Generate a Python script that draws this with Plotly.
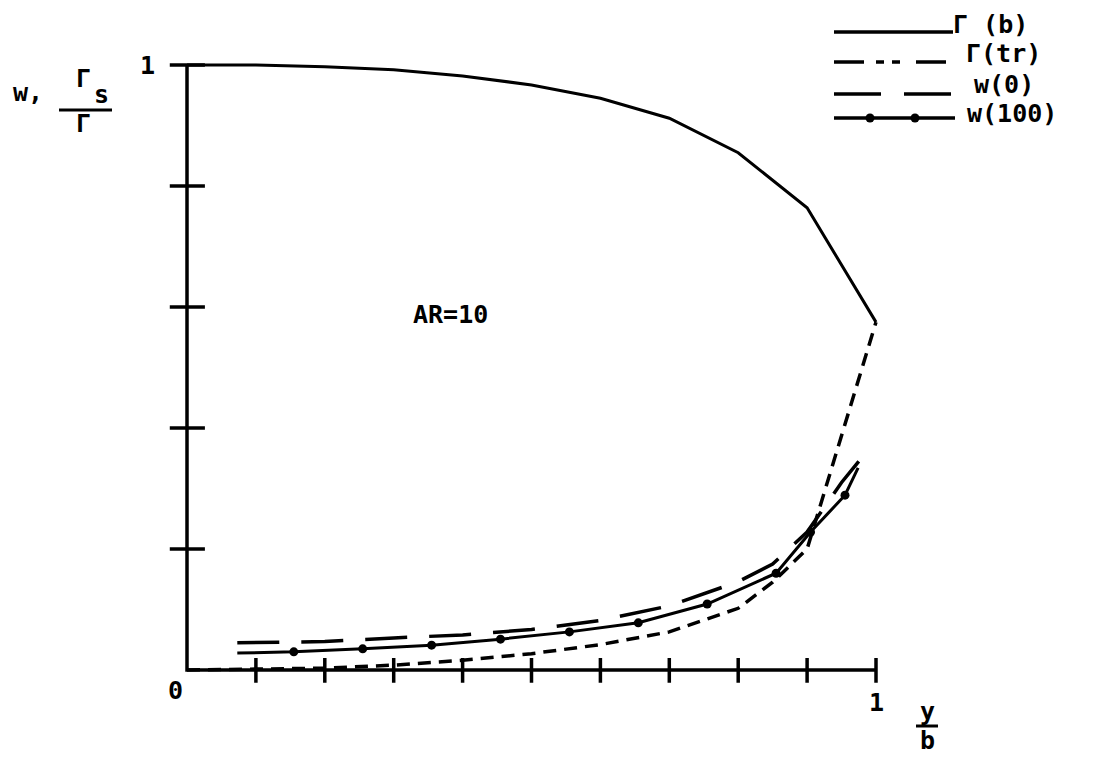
import plotly.graph_objects as go

# ---------------- data ----------------
x_gb = [0.0, 0.1, 0.2, 0.3, 0.4, 0.5, 0.6, 0.7, 0.8, 0.9, 1.0]
gamma_b = [1.0, 1.0, 0.997, 0.992, 0.982, 0.967, 0.945, 0.912, 0.855, 0.764, 0.575]

x_gtr = [0.0, 0.1, 0.2, 0.3, 0.4, 0.5, 0.6, 0.7, 0.8, 0.85, 0.9, 1.0]
gamma_tr = [0.0, 0.001, 0.003, 0.008, 0.016, 0.027, 0.042, 0.063, 0.102, 0.145, 0.2, 0.575]

x_w0 = [0.073, 0.2, 0.3, 0.4, 0.5, 0.6, 0.7, 0.8, 0.85, 0.9, 0.95, 0.975]
w0 = [0.045, 0.047, 0.053, 0.058, 0.067, 0.082, 0.106, 0.146, 0.175, 0.228, 0.31, 0.345]

x_w100 = [0.073, 0.155, 0.255, 0.355, 0.455, 0.555, 0.655, 0.755, 0.855, 0.905, 0.955, 0.974]
w100 = [0.028, 0.03, 0.035, 0.041, 0.051, 0.063, 0.078, 0.109, 0.16, 0.228, 0.289, 0.334]
w100_dot = [False, True, True, True, True, True, True, True, True, True, True, False]

x_ticks = [0.1, 0.2, 0.3, 0.4, 0.5, 0.6, 0.7, 0.8, 0.9, 1.0]
y_ticks = [0.2, 0.4, 0.6, 0.8, 1.0]
x_tick_labels = {0.0: "0", 1.0: "1"}
y_tick_labels = {1.0: "1"}

legend_names = ["\u0393 (b)", "\u0393(tr)", "w(0)", "w(100)"]

# ---------------- layout geometry ----------------
W, H = 1095, 757
X0PX, X1PX = 187, 876   # pixel of x=0 and x=1
Y0PX, Y1PX = 670, 65    # pixel of y=0 and y=1
XR = [-0.1, 1.1]
YR = [-0.1, 1.1]
sx = X1PX - X0PX
sy = Y0PX - Y1PX
left = X0PX + XR[0] * sx
right = X0PX + XR[1] * sx
top = Y0PX - YR[1] * sy
bottom = Y0PX - YR[0] * sy


def px(x):
    return x / W


def py(y):
    return 1 - y / H


FONT = "DejaVu Sans Mono"
BLACK = "#000000"
LW = 3.5

fig = go.Figure()

# axes (through data scale)
fig.add_trace(go.Scatter(x=[0, 0, 1], y=[1, 0, 0], mode="lines",
                         line=dict(color=BLACK, width=LW), hoverinfo="skip"))
# ticks
tx, ty = [], []
for t in x_ticks:
    tx += [t, t, None]
    ty += [-0.021, 0.02, None]
for t in y_ticks:
    tx += [-0.025, 0.026, None]
    ty += [t, t, None]
fig.add_trace(go.Scatter(x=tx, y=ty, mode="lines",
                         line=dict(color=BLACK, width=LW), hoverinfo="skip"))

# curves
fig.add_trace(go.Scatter(x=x_gb, y=gamma_b, mode="lines", name=legend_names[0],
                         line=dict(color=BLACK, width=3)))
fig.add_trace(go.Scatter(x=x_gtr, y=gamma_tr, mode="lines", name=legend_names[1],
                         line=dict(color=BLACK, width=3.5, dash="13px,8px")))
fig.add_trace(go.Scatter(x=x_w0, y=w0, mode="lines", name=legend_names[2],
                         line=dict(color=BLACK, width=3.5, dash="42px,22px")))
fig.add_trace(go.Scatter(x=x_w100, y=w100, mode="lines+markers", name=legend_names[3],
                         line=dict(color=BLACK, width=3),
                         marker=dict(color=BLACK, size=[9 if d else 0 for d in w100_dot],
                                     opacity=1, line=dict(width=0))))

ann = []
shapes = []

# tick labels
for v, s in x_tick_labels.items():
    if v == 0.0:
        ann.append(dict(x=px(175), y=py(690), text=s))
    else:
        ann.append(dict(x=v, y=py(702), xref="x", text=s))
for v, s in y_tick_labels.items():
    ann.append(dict(x=px(147), y=v, yref="y", text=s))

# axis titles
ann.append(dict(x=px(927), y=py(711), text="y"))
ann.append(dict(x=px(927), y=py(740), text="b"))
shapes.append(dict(type="line", xref="paper", yref="paper",
                   x0=px(916), x1=px(938), y0=py(726), y1=py(726),
                   line=dict(color=BLACK, width=3)))
ann.append(dict(x=px(28), y=py(93), text="w,"))
ann.append(dict(x=px(83), y=py(78), text="\u0393"))
ann.append(dict(x=px(101), y=py(94), text="s"))
shapes.append(dict(type="line", xref="paper", yref="paper",
                   x0=px(59), x1=px(112), y0=py(110), y1=py(110),
                   line=dict(color=BLACK, width=3)))
ann.append(dict(x=px(83), y=py(124), text="\u0393"))

# AR label
ann.append(dict(x=px(450), y=py(314), text="AR=10"))

# custom legend
leg_rows = [32, 62, 94, 118]
leg_dash = ["solid", "30px,12px,8px,8px,8px,16px", "47px,23px", "solid"]
leg_text_x = [990, 1003, 1004, 1012]
leg_text_y = [24, 53, 84, 113]
for i, name in enumerate(legend_names):
    shapes.append(dict(type="line", xref="paper", yref="paper",
                       x0=px(834), x1=px(953 if i == 0 else 955),
                       y0=py(leg_rows[i]), y1=py(leg_rows[i]),
                       line=dict(color=BLACK, width=3.5, dash=leg_dash[i])))
    ann.append(dict(x=px(leg_text_x[i]), y=py(leg_text_y[i]), text=name))
for cx in [870, 915]:
    shapes.append(dict(type="circle", xref="paper", yref="paper",
                       x0=px(cx - 4.5), x1=px(cx + 4.5), y0=py(leg_rows[3] - 4.5), y1=py(leg_rows[3] + 4.5),
                       fillcolor=BLACK, line=dict(color=BLACK, width=0)))

for a in ann:
    a.setdefault("xref", "paper")
    a.setdefault("yref", "paper")
    a.update(showarrow=False, xanchor="center", yanchor="middle",
             font=dict(family=FONT, size=25, color=BLACK, weight="bold"))

fig.update_layout(
    width=W, height=H,
    margin=dict(l=0, r=0, t=0, b=0),
    paper_bgcolor="white", plot_bgcolor="white",
    showlegend=False,
    hovermode=False,
    xaxis=dict(range=XR, domain=[left / W, right / W], visible=False, fixedrange=True),
    yaxis=dict(range=YR, domain=[(H - bottom) / H, (H - top) / H], visible=False, fixedrange=True),
    annotations=ann,
    shapes=shapes,
)

fig.write_html("out.html",
               config={"displayModeBar": False, "staticPlot": True},
               post_script="document.body.style.margin='0';document.body.style.overflow='hidden';")
